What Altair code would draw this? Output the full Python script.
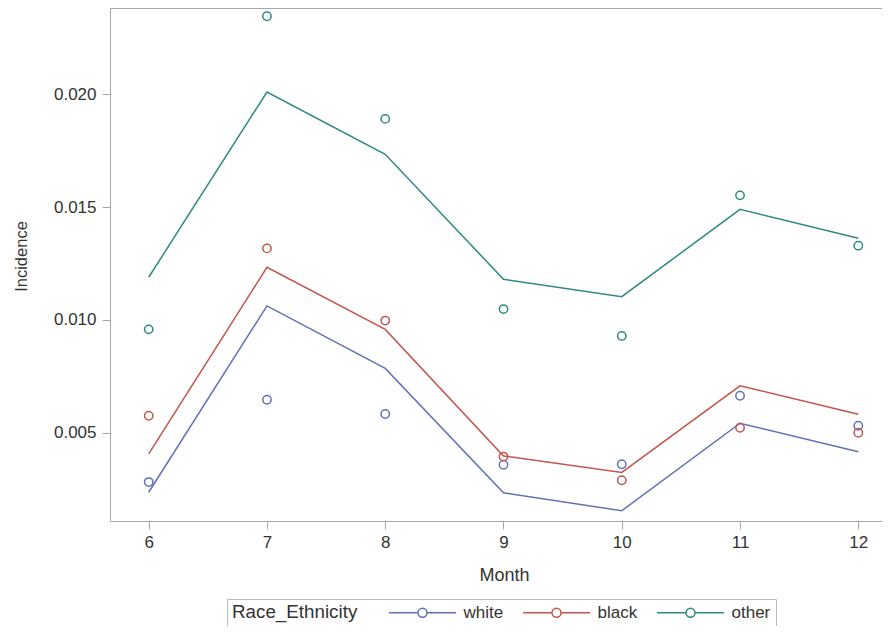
import altair as alt
import pandas as pd

months = [6, 7, 8, 9, 10, 11, 12]
groups = ["white", "black", "other"]

# observed incidence (circles)
obs_white = [0.00281, 0.00646, 0.00583, 0.00358, 0.00360, 0.00664, 0.00531]
obs_black = [0.00575, 0.01317, 0.00997, 0.00394, 0.00289, 0.00522, 0.00500]
obs_other = [0.00958, 0.02346, 0.01891, 0.01048, 0.00929, 0.01552, 0.01329]

# fitted incidence (lines)
fit_white = [0.00236, 0.01062, 0.00785, 0.00234, 0.00154, 0.00542, 0.00416]
fit_black = [0.00406, 0.01233, 0.00958, 0.00397, 0.00324, 0.00708, 0.00582]
fit_other = [0.01189, 0.02010, 0.01734, 0.01180, 0.01103, 0.01490, 0.01362]

colors = ["#6270B6", "#C2554D", "#2C8A80"]
y_ticks = [0.005, 0.010, 0.015, 0.020]

rows = []
for g, ob, ft in zip(groups, [obs_white, obs_black, obs_other], [fit_white, fit_black, fit_other]):
    for m, o, f in zip(months, ob, ft):
        rows.append({"Month": m, "Race_Ethnicity": g, "observed": o, "fitted": f})
df = pd.DataFrame(rows)

font = "Liberation Sans"

x = alt.X("Month:Q",
          scale=alt.Scale(domain=[5.6728, 12.2004], nice=False, zero=False),
          axis=alt.Axis(values=months, format="d", title="Month",
                        titleX=394, titleY=54, titleBaseline="middle",
                        titleFontSize=18, titleFontWeight="normal"))
yscale = alt.Scale(domain=[0.001086, 0.023825], nice=False, zero=False)
yaxis = alt.Axis(values=y_ticks, format=".3f", title="Incidence",
                 titleX=-89, titleY=248, titleAngle=270, titleBaseline="middle",
                 titleAlign="center", titleFontSize=16.5, titleFontWeight="normal")

color_scale = alt.Scale(domain=groups, range=colors)

# legend glyph: horizontal line with an open circle in the middle (unit = 6px)
symbol_path = ("M-5.58,0H-0.75M0.75,0H5.58"
               "M0.75,0A0.75,0.75,0,1,1,-0.75,0A0.75,0.75,0,1,1,0.75,0")

legend = alt.Legend(
    title="Race_Ethnicity", orient="none", direction="horizontal",
    legendX=117, legendY=591,
    titleOrient="left", titleFontSize=18.8, titleFontWeight="normal",
    titleColor="#333333", titlePadding=56, titleBaseline="middle",
    labelFontSize=17, labelColor="#333333", labelOffset=32.5,
    symbolType=symbol_path, symbolSize=144, symbolStrokeWidth=1.5,
    symbolFillColor="transparent",
    columnPadding=16, padding=5, strokeColor="#bbbbbb",
    fillColor="white", labelFont=font, titleFont=font)

color = alt.Color("Race_Ethnicity:N", scale=color_scale, legend=legend)

lines = alt.Chart(df).mark_line(strokeWidth=1.5).encode(
    x=x,
    y=alt.Y("fitted:Q", scale=yscale, axis=yaxis),
    color=color,
)

points = alt.Chart(df).mark_point(shape="circle", filled=False, size=70, strokeWidth=1.5, opacity=1).encode(
    x=x,
    y=alt.Y("observed:Q", scale=yscale, axis=yaxis),
    color=color,
)

chart = alt.layer(lines, points).properties(
    width=772, height=513,
    autosize=alt.AutoSizeParams(type="none"),
    padding={"left": 102, "top": 0, "right": 0, "bottom": 105},
).configure_view(
    stroke="#a8a8a8", strokeWidth=1
).configure_axis(
    grid=False, domainColor="#a8a8a8", tickColor="#a8a8a8", domainWidth=1,
    tickSize=8, labelFontSize=17, labelColor="#333333", labelFont=font,
    titleFont=font, titleColor="#333333", labelPadding=5,
).configure_axisY(labelPadding=6)

chart.save("out.html", embed_options={"renderer": "svg", "actions": False})
